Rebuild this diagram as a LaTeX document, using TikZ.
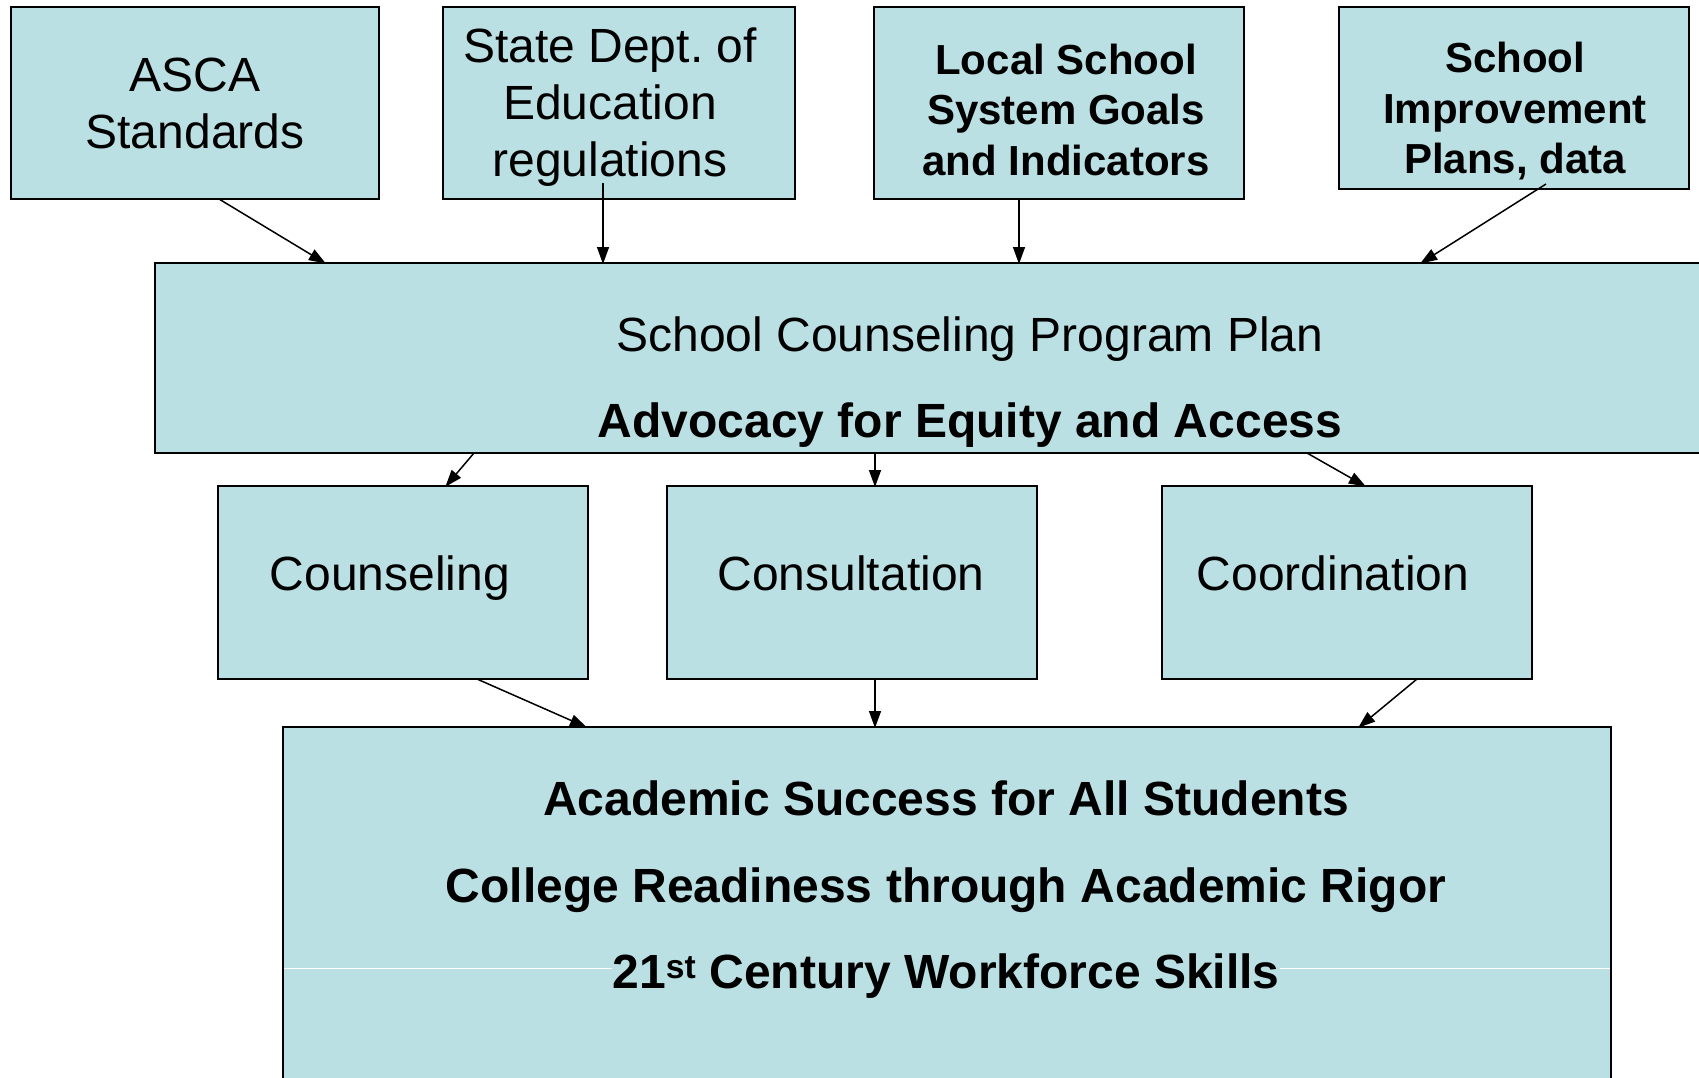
\documentclass[tikz,border=0pt]{standalone}
\usepackage{fontspec}
\setmainfont{Liberation Sans}
\usetikzlibrary{arrows.meta}
\definecolor{boxfill}{HTML}{BBE0E3}
\frenchspacing
\begin{document}
\begin{tikzpicture}[x=1pt,y=-1pt,
  box/.style={draw=black, line width=2pt, fill=boxfill, inner sep=0pt, outer sep=0pt},
  arr/.style={-{Triangle[length=17pt,width=12pt]}, line width=1.5pt, shorten >=-1pt},
  reg/.style={font=\fontsize{48}{57}\selectfont, align=center, inner sep=0pt},
  bld/.style={font=\bfseries\fontsize{42}{50.5}\selectfont, align=center, inner sep=0pt},
  one/.style={font=\fontsize{48}{58}\selectfont, inner sep=0pt, anchor=base},
  oneb/.style={font=\bfseries\fontsize{48}{58}\selectfont, inner sep=0pt, anchor=base}]
\useasboundingbox (0,0) rectangle (1699,1077);
\clip (0,0) rectangle (1699,1077);
\fill[white] (0,0) rectangle (1699,1077);
% top boxes
\node[box, minimum width=368, minimum height=192] (asca) at (195,103) {};
\node[box, minimum width=352, minimum height=192] (state) at (619,103) {};
\node[box, minimum width=370, minimum height=192] (local) at (1059,103) {};
\node[box, minimum width=350, minimum height=182] (school) at (1514,98) {};
\node[reg] (ascat) at (195,103) {ASCA\\Standards};
\node[reg] (statet) at (610,107.5) {State Dept. of\\Education\\regulations};
\node[bld] (localt) at (1066,109.5) {Local School\\System Goals\\and Indicators};
\node[bld] (schoolt) at (1515,111.5) {School\\Improvement\\Plans, data};
% main box
\node[box, minimum width=1630, minimum height=190] (main) at (970,358) {};
\node[one] (m1) at (970,351) {School Counseling Program Plan};
\node[oneb] (m2) at (970,437) {Advocacy for Equity and Access};
% middle boxes
\node[box, minimum width=370, minimum height=193] (couns) at (403,582.5) {};
\node[box, minimum width=370, minimum height=193] (consult) at (852,582.5) {};
\node[box, minimum width=370, minimum height=193] (coord) at (1347,582.5) {};
\node[one] (counst) at (390,590) {Counseling};
\node[one] (consultt) at (851,590) {Consultation};
\node[one] (coordt) at (1333,590) {Coordination};
% bottom box
\node[box, minimum width=1328, minimum height=473] (bottom) at (947,963.5) {};
\node[oneb] (t1) at (946,815) {Academic Success for All Students};
\node[oneb] (t2) at (946,902) {College Readiness through Academic Rigor};
\node[oneb] (t3) at (946,988) {21\textsuperscript{st} Century Workforce Skills};
\draw[white, line width=1pt] (bottom.west |- t3.center) ++(1,-7) -- ([yshift=7pt]t3.west);
\draw[white, line width=1pt] ([yshift=7pt]t3.east) -- ([xshift=-1pt,yshift=7pt]bottom.east |- t3.center);
% arrows into main
\draw[arr] ([xshift=24pt]asca.south) -- ([xshift=-645pt]main.north);
\draw[arr] ([xshift=-16pt,yshift=16pt]state.south) -- ([xshift=-367pt]main.north);
\draw[arr] ([xshift=-40pt]local.south) -- ([xshift=49pt]main.north);
\draw[arr] ([xshift=32pt,yshift=5pt]school.south) -- ([xshift=451pt]main.north);
% main to middle
\draw[arr] ([xshift=-496pt]main.south) -- ([xshift=43pt]couns.north);
\draw[arr] ([xshift=-95pt]main.south) -- ([xshift=23pt]consult.north);
\draw[arr] ([xshift=337pt]main.south) -- ([xshift=18pt]coord.north);
% middle to bottom
\draw[arr] ([xshift=74pt]couns.south) -- ([xshift=-361pt]bottom.north);
\draw[arr] ([xshift=23pt]consult.south) -- ([xshift=-72pt]bottom.north);
\draw[arr] ([xshift=70pt]coord.south) -- ([xshift=412pt]bottom.north);
\end{tikzpicture}
\end{document}
